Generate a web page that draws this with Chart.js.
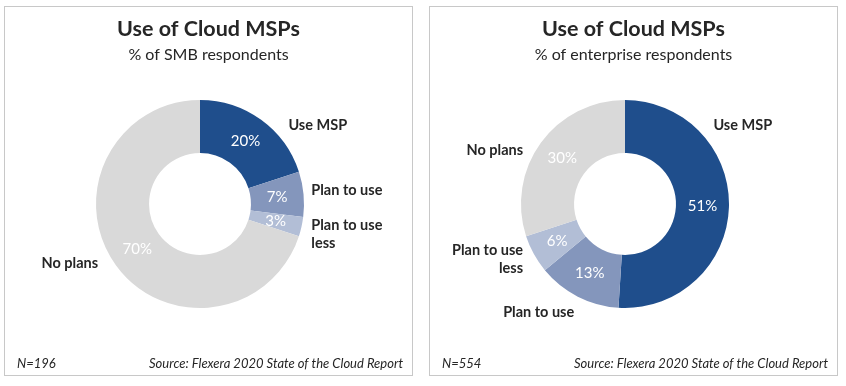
<!DOCTYPE html>
<html>
<head>
<meta charset="utf-8">
<script src="https://cdn.jsdelivr.net/npm/chart.js@4"></script>
<style>
  body { margin: 0; width: 846px; height: 386px; background: #fff; position: relative; overflow: hidden; }
  .panel { position: absolute; top: 6px; width: 409px; height: 370px; border: 1px solid #c8c8c8; box-sizing: border-box; }
  .panel canvas { display: block; }
</style>
</head>
<body>
<div class="panel" style="left:4px"><canvas id="smbChart" width="407" height="368"></canvas></div>
<div class="panel" style="left:429px"><canvas id="entChart" width="407" height="368"></canvas></div>
<script>
const categories = ['Use MSP', 'Plan to use', 'Plan to use less', 'No plans'];
const smbValues = [20, 7, 3, 70];
const enterpriseValues = [51, 13, 6, 30];
const sliceColors = ['#1f4e8c', '#8496bc', '#b2bed6', '#d9d9d9'];

const textColor = '#262626';
const fontName = 'Lato';

// draws titles, in-slice percentages, slice names and the footer
const panelText = {
	id: 'panelText',
	afterDraw(chart, args, opts) {
		const { ctx, width } = chart;
		const meta = chart.getDatasetMeta(0);
		const cx = meta.data[0].x;
		const cy = meta.data[0].y;
		const r = meta.data[0].outerRadius;
		const values = chart.data.datasets[0].data;

		ctx.save();
		ctx.fillStyle = textColor;
		ctx.textAlign = 'center';
		ctx.textBaseline = 'alphabetic';
		ctx.font = `bold 21.5px ${fontName}`;
		ctx.fillText(opts.title, width / 2, 29);
		ctx.font = `16px ${fontName}`;
		ctx.fillText(opts.subtitle, width / 2, 53);

		// percentages
		ctx.textBaseline = 'middle';
		ctx.fillStyle = '#ffffff';
		ctx.font = `15px ${fontName}`;
		meta.data.forEach((arc, i) => {
			const p = arc.tooltipPosition();
			ctx.fillText(values[i] + '%', p.x, p.y);
		});

		// slice names
		ctx.fillStyle = textColor;
		ctx.font = `bold 14.5px ${fontName}`;
		opts.spots.forEach((s, i) => {
			const name = chart.data.labels[i];
			let lines = [name];
			if (s.wrap) {
				const cut = name.lastIndexOf(' ');
				lines = [name.slice(0, cut), name.slice(cut + 1)];
			}
			ctx.textAlign = s.align;
			const x = cx + s.dx * r;
			const y0 = cy + s.dy * r - (lines.length - 1) * 9;
			lines.forEach((ln, k) => ctx.fillText(ln, x, y0 + k * 18));
		});

		// footer
		ctx.textBaseline = 'alphabetic';
		ctx.font = `italic 13px ${fontName}`;
		ctx.textAlign = 'left';
		ctx.fillText(opts.n, 12, 361);
		ctx.textAlign = 'right';
		ctx.fillText('Source: Flexera 2020 State of the Cloud Report', 398, 361);
		ctx.restore();
	},
};

const makeChart = (id, values, text) => {
	return new Chart(document.getElementById(id), {
		type: 'doughnut',
		data: {
			labels: categories,
			datasets: [
				{
					data: values,
					backgroundColor: sliceColors,
					borderWidth: 0,
				},
			],
		},
		options: {
			responsive: false,
			animation: false,
			cutout: '49%',
			layout: { padding: { left: 91, right: 108, top: 93, bottom: 67 } },
			plugins: {
				legend: { display: false },
				tooltip: { enabled: false },
				panelText: text,
			},
		},
		plugins: [panelText],
	});
};

makeChart('smbChart', smbValues, {
	title: 'Use of Cloud MSPs',
	subtitle: '% of SMB respondents',
	n: 'N=196',
	spots: [
		{ dx: 0.85, dy: -0.76, align: 'left' },
		{ dx: 1.07, dy: -0.13, align: 'left' },
		{ dx: 1.07, dy: 0.29, align: 'left', wrap: true },
		{ dx: -0.98, dy: 0.57, align: 'right' },
	],
});

makeChart('entChart', enterpriseValues, {
	title: 'Use of Cloud MSPs',
	subtitle: '% of enterprise respondents',
	n: 'N=554',
	spots: [
		{ dx: 0.85, dy: -0.76, align: 'left' },
		{ dx: -0.83, dy: 1.04, align: 'center' },
		{ dx: -0.98, dy: 0.53, align: 'right', wrap: true },
		{ dx: -0.98, dy: -0.52, align: 'right' },
	],
});
</script>
</body>
</html>
